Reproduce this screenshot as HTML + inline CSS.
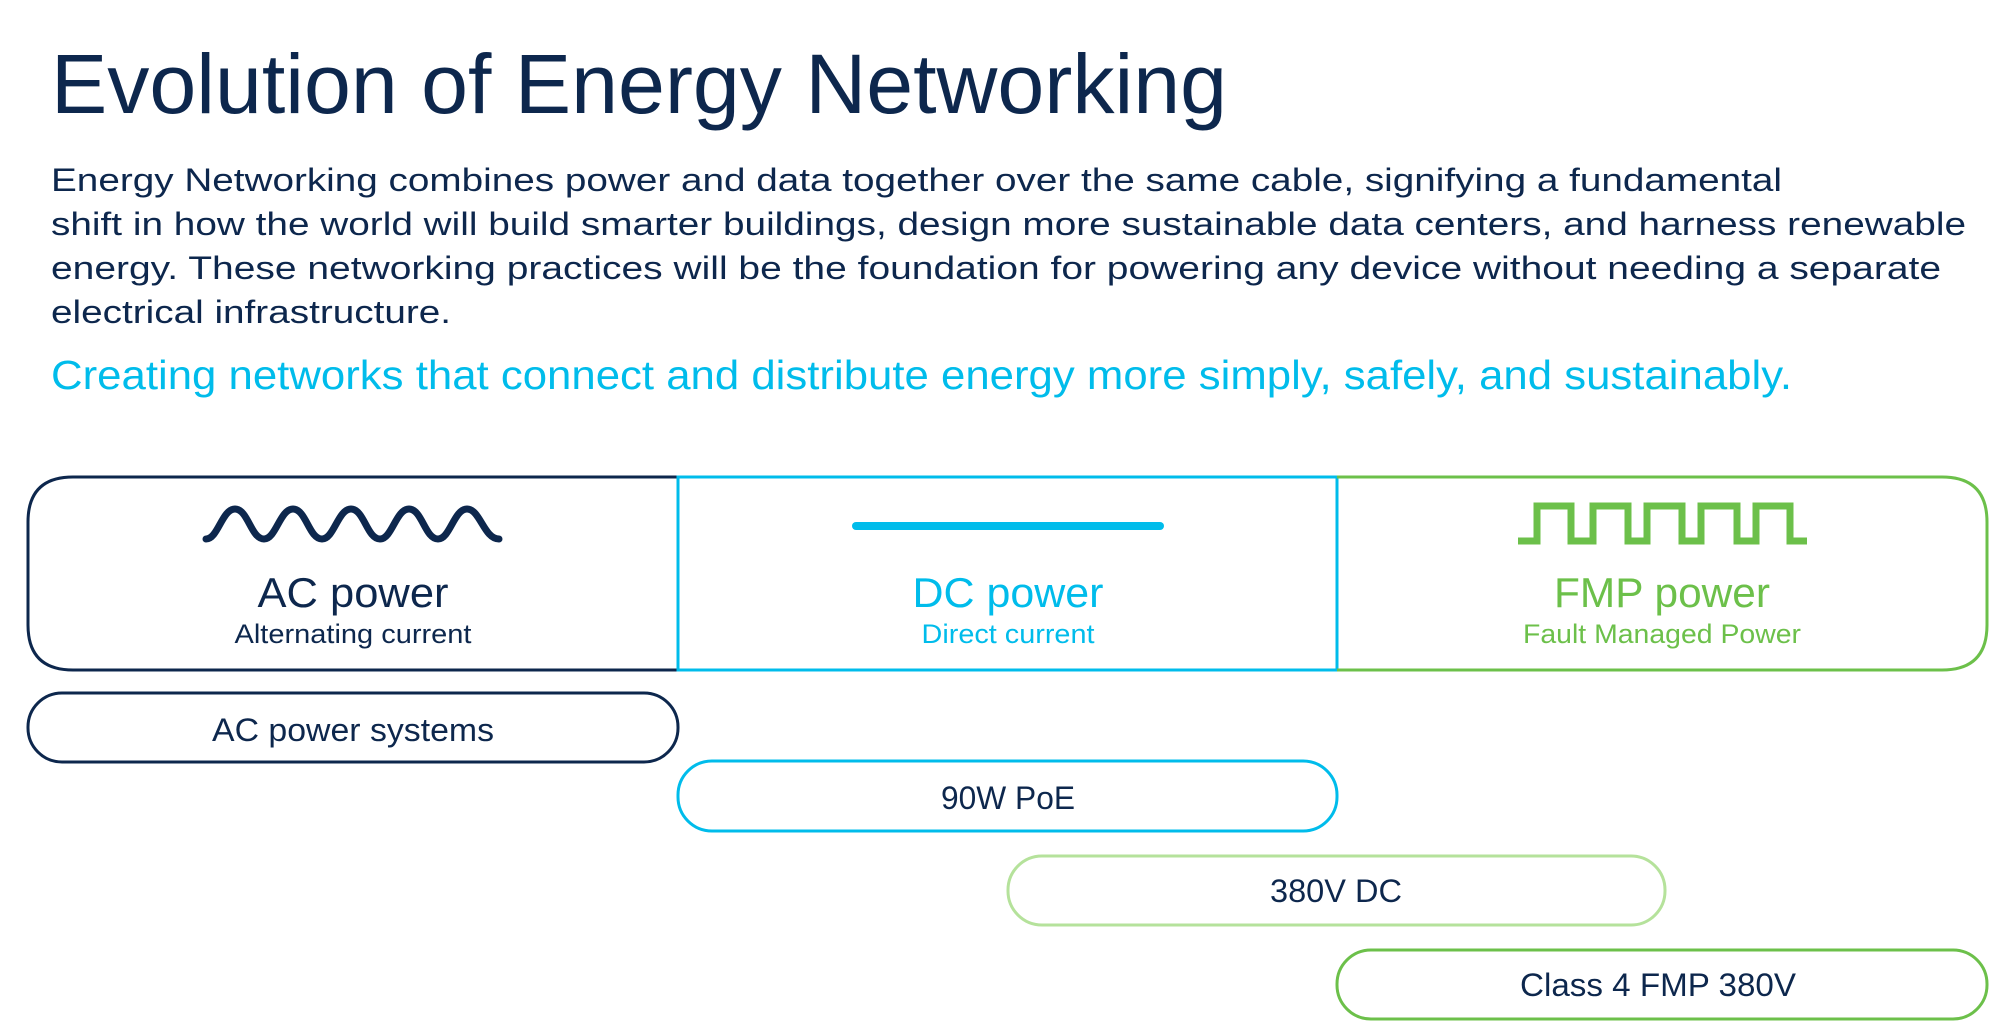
<!DOCTYPE html>
<html><head><meta charset="utf-8"><style>
html,body{margin:0;padding:0;background:#fff;width:2000px;height:1022px;overflow:hidden}
svg{display:block}
text{font-family:"Liberation Sans",sans-serif}
</style></head><body>
<svg width="2000" height="1022" viewBox="0 0 2000 1022" xmlns="http://www.w3.org/2000/svg">
<text x="51" y="113" font-size="84" fill="#0d274d" textLength="1176" lengthAdjust="spacingAndGlyphs">Evolution of Energy Networking</text>
<g font-size="32" fill="#0d274d">
<text x="51" y="191" textLength="1731" lengthAdjust="spacingAndGlyphs">Energy Networking combines power and data together over the same cable, signifying a fundamental</text>
<text x="51" y="235" textLength="1915" lengthAdjust="spacingAndGlyphs">shift in how the world will build smarter buildings, design more sustainable data centers, and harness renewable</text>
<text x="51" y="279" textLength="1890" lengthAdjust="spacingAndGlyphs">energy. These networking practices will be the foundation for powering any device without needing a separate</text>
<text x="51" y="323" textLength="400" lengthAdjust="spacingAndGlyphs">electrical infrastructure.</text>
</g>
<text x="51" y="389" font-size="41" fill="#00bceb" textLength="1741" lengthAdjust="spacingAndGlyphs">Creating networks that connect and distribute energy more simply, safely, and sustainably.</text>

<path d="M678 477 H73 Q28 477 28 522 V625 Q28 670 73 670 H678" fill="none" stroke="#0d274d" stroke-width="3"/>
<rect x="678" y="477" width="659" height="193" fill="none" stroke="#00bceb" stroke-width="3"/>
<path d="M1337 477 H1942 Q1987 477 1987 522 V625 Q1987 670 1942 670 H1337" fill="none" stroke="#6cc04a" stroke-width="3"/>

<path d="M206 539 C218 539,222 509,235 509 C248 509,251 539,264 539 C276 539,280 509,293 509 C306 509,309 539,322 539 C334 539,338 509,351 509 C364 509,367 539,380 539 C392 539,396 509,409 509 C422 509,425 539,438 539 C450 539,454 509,467 509 C480 509,484 539,499 539" fill="none" stroke="#0d274d" stroke-width="7" stroke-linecap="round"/>
<line x1="856" y1="526" x2="1160" y2="526" stroke="#00bceb" stroke-width="8" stroke-linecap="round"/>
<path d="M1518 541 H1537 V506 H1571 V541 H1593 V506 H1628 V541 H1647 V506 H1682 V541 H1701 V506 H1737 V541 H1756 V506 H1790 V541 H1807" fill="none" stroke="#6cc04a" stroke-width="7"/>

<text x="353" y="607" font-size="42" fill="#0d274d" text-anchor="middle" textLength="191" lengthAdjust="spacingAndGlyphs">AC power</text>
<text x="353" y="643" font-size="27" fill="#0d274d" text-anchor="middle" textLength="237" lengthAdjust="spacingAndGlyphs">Alternating current</text>
<text x="1008" y="607" font-size="42" fill="#00bceb" text-anchor="middle" textLength="191" lengthAdjust="spacingAndGlyphs">DC power</text>
<text x="1008" y="643" font-size="27" fill="#00bceb" text-anchor="middle" textLength="173" lengthAdjust="spacingAndGlyphs">Direct current</text>
<text x="1662" y="607" font-size="42" fill="#6cc04a" text-anchor="middle" textLength="216" lengthAdjust="spacingAndGlyphs">FMP power</text>
<text x="1662" y="643" font-size="27" fill="#6cc04a" text-anchor="middle" textLength="278" lengthAdjust="spacingAndGlyphs">Fault Managed Power</text>

<rect x="28" y="693" width="650" height="69" rx="34" fill="none" stroke="#0d274d" stroke-width="3"/>
<rect x="678" y="761" width="659" height="70" rx="34" fill="none" stroke="#00bceb" stroke-width="3"/>
<rect x="1008" y="856" width="657" height="69" rx="34" fill="none" stroke="#b5e29b" stroke-width="3"/>
<rect x="1337" y="950" width="650" height="69" rx="34" fill="none" stroke="#6cc04a" stroke-width="3"/>
<g font-size="32" fill="#0d274d" text-anchor="middle">
<text x="353" y="741" textLength="282" lengthAdjust="spacingAndGlyphs">AC power systems</text>
<text x="1008" y="809" textLength="134" lengthAdjust="spacingAndGlyphs">90W PoE</text>
<text x="1336" y="902" textLength="132" lengthAdjust="spacingAndGlyphs">380V DC</text>
<text x="1658" y="996" textLength="276" lengthAdjust="spacingAndGlyphs">Class 4 FMP 380V</text>
</g>
</svg>
</body></html>
